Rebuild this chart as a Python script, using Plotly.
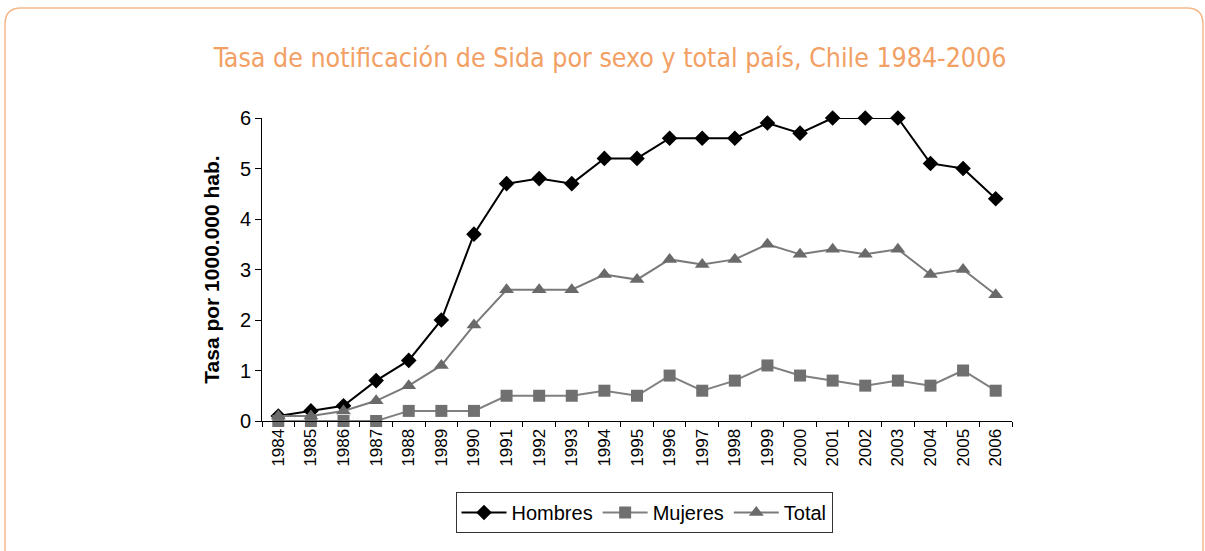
import plotly.graph_objects as go

years = [str(y) for y in range(1984, 2007)]
hombres = [0.1, 0.2, 0.3, 0.8, 1.2, 2.0, 3.7, 4.7, 4.8, 4.7, 5.2, 5.2, 5.6, 5.6, 5.6, 5.9, 5.7, 6.0, 6.0, 6.0, 5.1, 5.0, 4.4]
mujeres = [0.0, 0.0, 0.0, 0.0, 0.2, 0.2, 0.2, 0.5, 0.5, 0.5, 0.6, 0.5, 0.9, 0.6, 0.8, 1.1, 0.9, 0.8, 0.7, 0.8, 0.7, 1.0, 0.6]
total = [0.1, 0.1, 0.2, 0.4, 0.7, 1.1, 1.9, 2.6, 2.6, 2.6, 2.9, 2.8, 3.2, 3.1, 3.2, 3.5, 3.3, 3.4, 3.3, 3.4, 2.9, 3.0, 2.5]
y_ticks = [0, 1, 2, 3, 4, 5, 6]

W, H = 1205, 551
L, R, T, B = 262, 1012, 118, 421

fig = go.Figure()
fig.add_trace(go.Scatter(x=years, y=hombres, name="Hombres", mode="lines+markers",
                         line=dict(color="#000000", width=2),
                         marker=dict(symbol="diamond", size=12, color="#000000"),
                         cliponaxis=False))
fig.add_trace(go.Scatter(x=years, y=mujeres, name="Mujeres", mode="lines+markers",
                         line=dict(color="#808080", width=2),
                         marker=dict(symbol="square", size=12, color="#707070"),
                         cliponaxis=False))
fig.add_trace(go.Scatter(x=years, y=total, name="Total", mode="lines+markers",
                         line=dict(color="#7a7a7a", width=2),
                         marker=dict(symbol="triangle-up", size=13, color="#6a6a6a"),
                         cliponaxis=False))

def px(x):
    return (x - L) / (R - L)

def py(y):
    return (B - y) / (B - T)

# rounded orange frame (open at bottom)
x0, x1, y0, rr = 5, 1203, 8, 16
ybot = 560
path = (f"M {px(x0)} {py(ybot)} L {px(x0)} {py(y0 + rr)} "
        f"Q {px(x0)} {py(y0)} {px(x0 + rr)} {py(y0)} "
        f"L {px(x1 - rr)} {py(y0)} "
        f"Q {px(x1)} {py(y0)} {px(x1)} {py(y0 + rr)} "
        f"L {px(x1)} {py(ybot)}")

fig.update_layout(
    width=W, height=H,
    margin=dict(l=L, r=W - R, t=T, b=H - B, pad=0),
    paper_bgcolor="white", plot_bgcolor="white",
    showlegend=True,
    title=dict(text="Tasa de notificación de Sida por sexo y total país, Chile 1984-2006",
               x=610 / W, xanchor="center", y=1 - 58 / H, yanchor="middle",
               font=dict(family="DejaVu Sans Condensed, DejaVu Sans", size=26.5, color="#F2A064")),
    xaxis=dict(type="category", tickson="boundaries", showline=True, linecolor="black",
               linewidth=1, ticks="outside", ticklen=5, tickcolor="black", tickangle=-90,
               tickfont=dict(family="Liberation Sans, Arial", size=17, color="black"),
               showgrid=False, zeroline=False, range=[-0.5, 22.5]),
    yaxis=dict(range=[0, 6], tickvals=y_ticks, showline=True, linecolor="black", linewidth=1,
               ticks="outside", ticklen=6, tickcolor="black", showgrid=False, zeroline=False,
               tickfont=dict(family="Liberation Sans, Arial", size=20, color="black"),
               title=dict(text="<b>Tasa por 1000.000 hab.</b>", standoff=14,
                          font=dict(family="Liberation Sans, Arial", size=21, color="black"))),
    legend=dict(orientation="h", x=px(644), xref="paper", xanchor="center",
                y=py(492), yanchor="top", bordercolor="#333333", borderwidth=1,
                font=dict(family="Liberation Sans, Arial", size=20, color="black"),
                itemwidth=45, tracegroupgap=0),
    shapes=[dict(type="path", xref="paper", yref="paper", path=path,
                 line=dict(color="#F5B88A", width=1.5))],
)

fig.write_html("out.html", config={"displayModeBar": False},
               post_script="document.body.style.margin='0';document.body.style.overflow='hidden';")
